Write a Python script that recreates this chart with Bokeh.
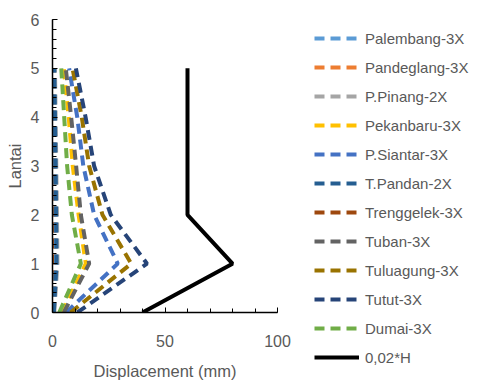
from bokeh.plotting import figure
from bokeh.models import Legend, LegendItem, SingleIntervalTicker, Range1d
from bokeh.embed import file_html
from bokeh.resources import INLINE

floors = [0, 1, 2, 3, 4, 5]
palembang = [0.5, 1.6, 1.4, 1.2, 1.0, 0.8]
pandeglang = [0.4, 1.2, 1.0, 0.9, 0.7, 0.5]
p_pinang = [0.8, 2.2, 2.0, 1.7, 1.4, 1.1]
pekanbaru = [4.2, 14.8, 11.6, 9.0, 7.2, 5.0]
p_siantar = [6.0, 29.0, 18.5, 13.7, 11.0, 7.4]
t_pandan = [0.6, 1.8, 1.6, 1.4, 1.1, 0.8]
trenggelek = [0.3, 1.0, 0.9, 0.8, 0.6, 0.5]
tuban = [5.0, 16.3, 12.6, 10.5, 8.3, 5.9]
tuluagung = [8.0, 35.0, 22.2, 16.3, 13.0, 8.9]
tutut = [11.0, 42.0, 25.9, 18.5, 14.7, 10.4]
dumai = [3.0, 12.6, 8.6, 6.5, 5.2, 3.9]
limit_x = [40, 80, 60, 60]
limit_y = [0, 1, 2, 5]

names = ["Palembang-3X", "Pandeglang-3X", "P.Pinang-2X", "Pekanbaru-3X", "P.Siantar-3X",
         "T.Pandan-2X", "Trenggelek-3X", "Tuban-3X", "Tuluagung-3X", "Tutut-3X", "Dumai-3X"]
series = [palembang, pandeglang, p_pinang, pekanbaru, p_siantar, t_pandan, trenggelek,
          tuban, tuluagung, tutut, dumai]
colors = ["#5B9BD5", "#ED7D31", "#A5A5A5", "#FFC000", "#4472C4", "#255E91", "#9E480E",
          "#636363", "#997300", "#264478", "#70AD47"]
# drawing order (series hidden near the axis drawn first)
draw_order = [1, 6, 0, 2, 5, 3, 4, 7, 8, 9, 10]

FONT = "Liberation Sans"
GRAY = "#595959"

p = figure(frame_width=225, frame_height=293, output_backend="svg", toolbar_location=None,
           x_range=Range1d(0, 100), y_range=Range1d(0, 6),
           min_border_left=52, min_border_right=192, min_border_top=19, min_border_bottom=68)
p.outline_line_color = None
p.xgrid.grid_line_color = None
p.ygrid.grid_line_color = None

renderers = {}
for i in draw_order:
    renderers[i] = p.line(series[i], floors, line_color=colors[i], line_width=4, line_dash="10 6")
items = [LegendItem(label=names[i], renderers=[renderers[i]]) for i in range(len(names))]
r = p.line(limit_x, limit_y, line_color="black", line_width=4)
items.append(LegendItem(label="0,02*H", renderers=[r]))

p.xaxis.ticker = SingleIntervalTicker(interval=50, num_minor_ticks=5)
p.yaxis.ticker = SingleIntervalTicker(interval=1, num_minor_ticks=5)
for ax in (p.xaxis[0], p.yaxis[0]):
    ax.axis_line_color = "black"
    ax.axis_line_width = 1.5
    ax.major_tick_line_color = "black"
    ax.minor_tick_line_color = "black"
    ax.major_tick_in = 5
    ax.major_tick_out = 0
    ax.minor_tick_in = 4
    ax.minor_tick_out = 0
    ax.major_label_text_font = FONT
    ax.major_label_text_font_size = "16px"
    ax.major_label_text_color = GRAY
    ax.axis_label_text_font = FONT
    ax.axis_label_text_font_size = "16.5px"
    ax.axis_label_text_color = GRAY
    ax.axis_label_text_font_style = "normal"
p.xaxis.axis_label = "Displacement (mm)"
p.yaxis.axis_label = "Lantai"
p.xaxis.major_label_standoff = 22
p.xaxis.axis_label_standoff = 12
p.yaxis.major_label_standoff = 13
p.yaxis.axis_label_standoff = 4

legend = Legend(items=items, location=(37, -56), orientation="vertical",
                glyph_width=45, glyph_height=22, label_height=22, spacing=7,
                label_standoff=6, padding=0, margin=0,
                label_text_font=FONT, label_text_font_size="15px", label_text_color=GRAY,
                border_line_color=None, background_fill_alpha=0)
p.add_layout(legend, "right")

open("out.html", "w").write(file_html(p, INLINE))
